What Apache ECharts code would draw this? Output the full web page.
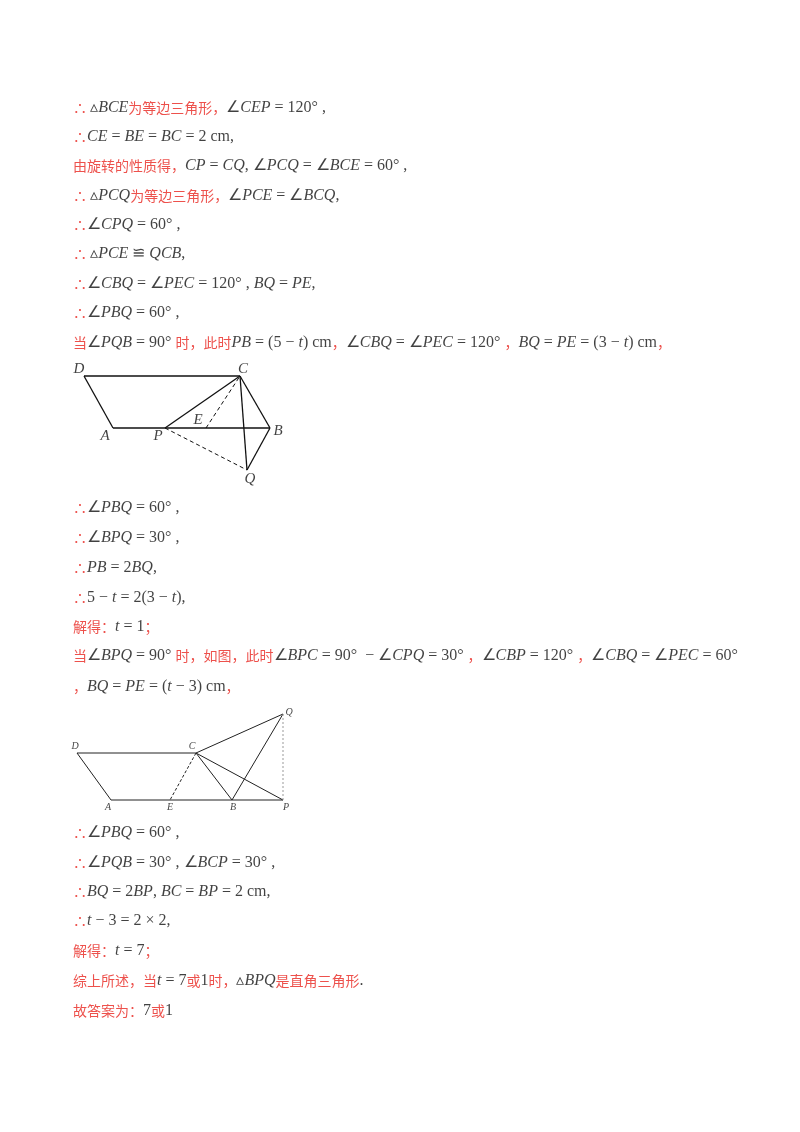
<!DOCTYPE html>
<html><head><meta charset="utf-8">
<script src="https://cdn.jsdelivr.net/npm/echarts@6/dist/echarts.min.js"></script>
<style>html,body{margin:0;padding:0;background:#fff}#c{width:800px;height:1132px}</style>
</head><body><div id="c"></div>
<script>
// text lines and their baselines
const textLines = [
  "∴ ▵BCE为等边三角形，∠CEP=120°,",
  "∴CE=BE=BC=2cm,",
  "由旋转的性质得，CP=CQ, ∠PCQ=∠BCE=60°,",
  "∴ ▵PCQ为等边三角形，∠PCE=∠BCQ,",
  "∴∠CPQ=60°,",
  "∴ ▵PCE ≌ QCB,",
  "∴∠CBQ=∠PEC=120°, BQ=PE,",
  "∴∠PBQ=60°,",
  "当∠PQB=90°时，此时PB=(5−t)cm，∠CBQ=∠PEC=120°，BQ=PE=(3−t)cm，",
  "∴∠PBQ=60°,",
  "∴∠BPQ=30°,",
  "∴PB=2BQ,",
  "∴5−t=2(3−t),",
  "解得：t=1；",
  "当∠BPQ=90°时，如图，此时∠BPC=90°−∠CPQ=30°，∠CBP=120°，∠CBQ=∠PEC=60°",
  "，BQ=PE=(t−3)cm，",
  "∴∠PBQ=60°,",
  "∴∠PQB=30°, ∠BCP=30°,",
  "∴BQ=2BP, BC=BP=2cm,",
  "∴t−3=2×2,",
  "解得：t=7；",
  "综上所述，当t=7或1时，▵BPQ是直角三角形.",
  "故答案为：7或1"
];
const textY = [108,137,166,196,225,254,284,313,343,508,538,568,598,627,656,687,833,863,892,921,951,981,1011];

// figure 1 points
const fig1Names = ["D","C","A","P","E","B","Q"];
const fig1X = [84,240,113,165,206,270,247];
const fig1Y = [376,376,428,428,428,428,470];
const fig1Solid = [["D","C"],["D","A"],["A","B"],["P","C"],["C","B"],["C","Q"],["B","Q"]];
const fig1Dashed = [["E","C"],["P","Q"]];
const fig1LabelOff = {D:[-5,-7],C:[3,-7],A:[-8,8],P:[-7,8],E:[-8,-8],B:[8,3],Q:[3,9]};

// figure 2 points
const fig2Names = ["D","C","A","E","B","P","Q"];
const fig2X = [77,196,111,170,232,283,283];
const fig2Y = [753,753,800,800,800,800,714];
const fig2Solid = [["D","C"],["D","A"],["A","P"],["C","Q"],["C","B"],["C","P"],["B","Q"]];
const fig2Dashed = [["C","E"]];
const fig2Dotted = [["Q","P"]];
const fig2LabelOff = {D:[-2,-7],C:[-4,-7],A:[-3,7],E:[0,7],B:[1,7],P:[3,7],Q:[6,-2]};

function cls(ch){
  if (/[A-Za-z]/.test(ch)) return 'm';
  if (/[\u4e00-\u9fff\uff00-\uffef\u3000-\u303f∴]/.test(ch)) return 'r';
  return 'n';
}
function rich(s){
  s = s.replace(/cm/g,'\u0001').replace(/([=−×])/g,' $1 ').replace(/°/g,'° ');
  let out='', cur=null, buf='';
  for (const ch of s){
    let c = ch==='\u0001' ? 'n' : ((ch===' ' && cur) ? cur : cls(ch));
    const t = ch==='\u0001' ? ' cm' : ch;
    if (c!==cur){ if(buf) out+='{'+cur+'|'+buf+'}'; buf=''; cur=c; }
    buf+=t;
  }
  if(buf) out+='{'+cur+'|'+buf+'}';
  return out;
}
const richStyles = {
  r:{color:'#e8251f',fontFamily:'Noto Sans CJK SC',fontSize:14},
  m:{color:'#111',fontFamily:'Liberation Serif',fontStyle:'italic',fontSize:16},
  n:{color:'#111',fontFamily:'Liberation Serif',fontSize:16}
};

function segSeries(names,X,Y,segs,style){
  return segs.map(([a,b])=>{
    const i=names.indexOf(a), j=names.indexOf(b);
    return {type:'line',data:[[X[i],Y[i]],[X[j],Y[j]]],symbol:'none',silent:true,
      lineStyle:style,animation:false};
  });
}
function labelSeries(names,X,Y,off,size){
  return {type:'scatter',symbolSize:0,animation:false,silent:true,
    data:names.map((n,i)=>({value:[X[i],Y[i]],label:{show:true,formatter:n,position:'inside',offset:off[n],
      fontFamily:'Liberation Serif',fontStyle:'italic',fontSize:size,color:'#111'}}))};
}
const blk='#111';
const series = [
  ...segSeries(fig1Names,fig1X,fig1Y,fig1Solid,{color:blk,width:1.3}),
  ...segSeries(fig1Names,fig1X,fig1Y,fig1Dashed,{color:blk,width:1,type:[4,3]}),
  labelSeries(fig1Names,fig1X,fig1Y,fig1LabelOff,15),
  ...segSeries(fig2Names,fig2X,fig2Y,fig2Solid,{color:'#222',width:1}),
  ...segSeries(fig2Names,fig2X,fig2Y,fig2Dashed,{color:'#222',width:1,type:[3,2]}),
  ...segSeries(fig2Names,fig2X,fig2Y,fig2Dotted,{color:'#999',width:1,type:[2,2]}),
  labelSeries(fig2Names,fig2X,fig2Y,fig2LabelOff,10),
  {type:'scatter',symbolSize:0,animation:false,silent:true,
   data:textLines.map((t,i)=>({value:[73,textY[i]],label:{show:true,position:'right',distance:0,
     formatter:rich(t),rich:richStyles}}))}
];
const chart = echarts.init(document.getElementById('c'),null,{renderer:'canvas'});
chart.setOption({
  animation:false,
  backgroundColor:'#fff',
  grid:{left:0,right:0,top:0,bottom:0},
  xAxis:{type:'value',min:0,max:800,show:false},
  yAxis:{type:'value',min:0,max:1132,inverse:true,show:false},
  series
});
</script></body></html>
